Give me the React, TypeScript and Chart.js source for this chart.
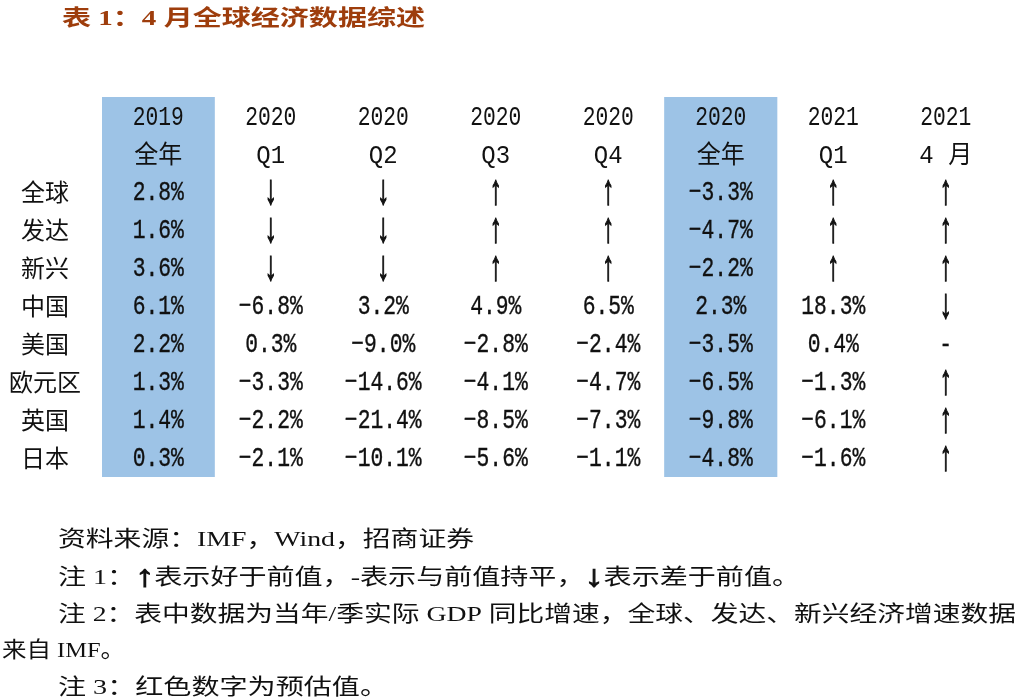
import React, { useEffect, useRef } from 'react';
import { Chart, registerables } from 'chart.js';

Chart.register(...registerables);

// ---------- data ----------
const titleText = '表 1：4 月全球经济数据综述';
const regions = ['全球', '发达', '新兴', '中国', '美国', '欧元区', '英国', '日本'];
const headerYears = ['2019', '2020', '2020', '2020', '2020', '2020', '2021', '2021'];
const headerPeriods = ['全年', 'Q1', 'Q2', 'Q3', 'Q4', '全年', 'Q1', '4 月'];

const fy2019: (number | string)[] = [2.8, 1.6, 3.6, 6.1, 2.2, 1.3, 1.4, 0.3];
const q1_2020: (number | string)[] = ['↓', '↓', '↓', -6.8, 0.3, -3.3, -2.2, -2.1];
const q2_2020: (number | string)[] = ['↓', '↓', '↓', 3.2, -9.0, -14.6, -21.4, -10.1];
const q3_2020: (number | string)[] = ['↑', '↑', '↑', 4.9, -2.8, -4.1, -8.5, -5.6];
const q4_2020: (number | string)[] = ['↑', '↑', '↑', 6.5, -2.4, -4.7, -7.3, -1.1];
const fy2020: (number | string)[] = [-3.3, -4.7, -2.2, 2.3, -3.5, -6.5, -9.8, -4.8];
const q1_2021: (number | string)[] = ['↑', '↑', '↑', 18.3, 0.4, -1.3, -6.1, -1.6];
const apr2021: (number | string)[] = ['↑', '↑', '↑', '↓', '-', '↑', '↑', '↑'];

const highlightCols = [0, 5];

const noteLines = [
  '资料来源：IMF，Wind，招商证券',
  '注 1：↑表示好于前值，-表示与前值持平，↓表示差于前值。',
  '注 2：表中数据为当年/季实际 GDP 同比增速，全球、发达、新兴经济增速数据',
  '来自 IMF。',
  '注 3：红色数字为预估值。',
];

// ---------- layout ----------
const W = 1021;
const H = 699;
const AREA_TOP = 97;
const AREA_BOTTOM = 477;
const AREA_LEFT = 102;
const AREA_RIGHT = 1002;
const TITLE_POS = { x: 62, y: 19, w: 363 };
const NOTE_POS = [
  { x: 58, y: 540, w: 416 },
  { x: 58, y: 578, w: 742 },
  { x: 58, y: 615, w: 958 },
  { x: 2, y: 651, w: 123 },
  { x: 58, y: 688, w: 330 },
];

const BLUE = '#9DC3E6';
const TEXT = '#111111';
const TITLE_COLOR = '#9E3D0C';
const MONO = "'Liberation Mono', 'Noto Sans CJK SC', monospace";
const CJK = "'Noto Sans CJK SC', sans-serif";
const SERIF = "'Liberation Serif', 'Noto Sans CJK SC', serif";
const ARROW_FONT = "bold 30px 'Liberation Sans', 'DejaVu Sans', sans-serif";

const columns = [fy2019, q1_2020, q2_2020, q3_2020, q4_2020, fy2020, q1_2021, apr2021];
const colKeys = headerYears.map((y, i) => y + headerPeriods[i]);

function fmt(v: number | string): string {
  if (typeof v === 'number') {
    return (v < 0 ? '−' : '') + Math.abs(v).toFixed(1) + '%';
  }
  return v;
}

function drawScaled(
  ctx: CanvasRenderingContext2D,
  text: string,
  x: number,
  y: number,
  font: string,
  sx: number,
  sy: number,
  stroke = 0,
) {
  ctx.save();
  ctx.translate(x, y);
  ctx.scale(sx, sy);
  ctx.font = font;
  ctx.textAlign = 'center';
  ctx.textBaseline = 'middle';
  ctx.fillText(text, 0, 0);
  if (stroke > 0) {
    ctx.lineWidth = stroke;
    ctx.strokeStyle = ctx.fillStyle as string;
    ctx.strokeText(text, 0, 0);
  }
  ctx.restore();
}

function drawFit(
  ctx: CanvasRenderingContext2D,
  text: string,
  x: number,
  y: number,
  font: string,
  width: number,
  color: string,
) {
  const parts = text.split(/([↑↓])/).filter((p) => p.length > 0);
  ctx.save();
  const fonts = parts.map((p) => (p === '↑' || p === '↓' ? ARROW_FONT : font));
  const widths = parts.map((p, i) => {
    ctx.font = fonts[i];
    return ctx.measureText(p).width;
  });
  const total = widths.reduce((a, b) => a + b, 0);
  ctx.translate(x, y);
  ctx.scale(width / total, 1);
  ctx.fillStyle = color;
  ctx.strokeStyle = color;
  ctx.textAlign = 'left';
  ctx.textBaseline = 'middle';
  let cx = 0;
  parts.forEach((p, i) => {
    ctx.font = fonts[i];
    ctx.fillText(p, cx, 0);
    if (fonts[i] === ARROW_FONT) {
      ctx.lineWidth = 1;
      ctx.strokeText(p, cx, 0);
    }
    cx += widths[i];
  });
  ctx.restore();
}

const tablePlugin = {
  id: 'tableText',
  beforeDraw(chart: any) {
    const ctx = chart.ctx;
    ctx.save();
    ctx.fillStyle = '#ffffff';
    ctx.fillRect(0, 0, chart.width, chart.height);
    ctx.restore();
  },
  afterDatasetsDraw(chart: any) {
    const ctx: CanvasRenderingContext2D = chart.ctx;
    const xs = chart.scales.x;
    const ys = chart.scales.y;
    ctx.save();
    ctx.fillStyle = TEXT;
    columns.forEach((col, c) => {
      const x = xs.getPixelForValue(c);
      drawScaled(ctx, headerYears[c], x, ys.getPixelForValue(0) + 2, `22px ${MONO}`, 0.97, 1.28);
      drawScaled(ctx, headerPeriods[c], x, ys.getPixelForValue(1) + 2, `24px ${MONO}`, 1, 1.05);
      col.forEach((v, r) => {
        const y = ys.getPixelForValue(r + 2) + 1;
        const t = fmt(v);
        if (t === '↑' || t === '↓') {
          drawScaled(ctx, t, x, y, `28px ${MONO}`, 0.85, 1.5, 0.9);
        } else {
          drawScaled(ctx, t, x, y, `22px ${MONO}`, 0.97, 1.28, 0.3);
        }
      });
    });
    drawFit(ctx, titleText, TITLE_POS.x, TITLE_POS.y, `bold 22px ${SERIF}`, TITLE_POS.w, TITLE_COLOR);
    noteLines.forEach((line, i) => {
      const p = NOTE_POS[i];
      drawFit(ctx, line, p.x, p.y, `22px ${SERIF}`, p.w, TEXT);
    });
    ctx.restore();
  },
};

export default function App() {
  const ref = useRef<HTMLCanvasElement | null>(null);
  useEffect(() => {
    if (!ref.current) return;
    const chart = new Chart(ref.current, {
      type: 'bar',
      data: {
        labels: colKeys,
        datasets: [
          {
            label: 'highlight',
            data: colKeys.map((_, i) => (highlightCols.includes(i) ? [-0.5, regions.length + 1.5] : null)) as any,
            backgroundColor: BLUE,
            borderWidth: 0,
            barPercentage: 1,
            categoryPercentage: 1,
          },
        ],
      },
      options: {
        responsive: false,
        animation: false,
        events: [],
        layout: {
          padding: { left: 0, top: AREA_TOP, right: W - AREA_RIGHT, bottom: H - AREA_BOTTOM },
        },
        plugins: {
          legend: { display: false },
          tooltip: { enabled: false },
          title: { display: false },
        },
        scales: {
          x: {
            type: 'category',
            display: false,
            offset: true,
          },
          y: {
            type: 'linear',
            reverse: true,
            min: -0.5,
            max: regions.length + 1.5,
            grid: { display: false },
            border: { display: false },
            afterBuildTicks: (scale: any) => {
              scale.ticks = Array.from({ length: regions.length + 2 }, (_, i) => ({ value: i }));
            },
            afterFit: (scale: any) => {
              scale.width = AREA_LEFT;
            },
            ticks: {
              autoSkip: false,
              crossAlign: 'center',
              padding: 13,
              color: TEXT,
              font: { family: CJK, size: 24 },
              callback: (value: any) => {
                const i = Number(value) - 2;
                return i >= 0 && i < regions.length ? regions[i] : '';
              },
            },
          },
        },
      },
      plugins: [tablePlugin],
    });
    return () => chart.destroy();
  }, []);
  return (
    <div style={{ position: 'fixed', left: 0, top: 0, width: W, height: H, background: '#fff' }}>
      <canvas ref={ref} width={W} height={H} style={{ display: 'block', width: W, height: H }} />
    </div>
  );
}
